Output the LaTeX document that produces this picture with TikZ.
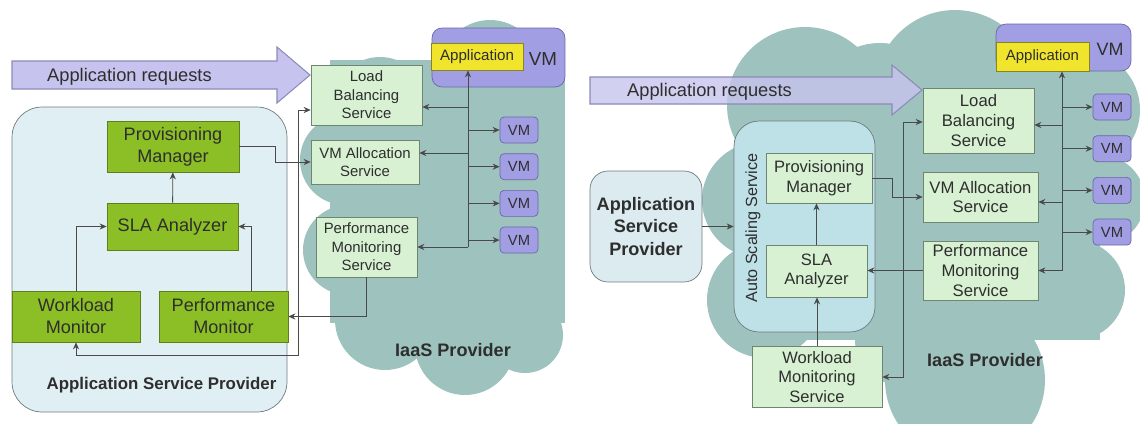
\documentclass[tikz,border=0pt]{standalone}
\usepackage{fontspec}
\setmainfont{Liberation Sans}
\usetikzlibrary{arrows.meta}
\usetikzlibrary{positioning}

\definecolor{cloudteal}{HTML}{9EC3BE}
\definecolor{aspfill}{HTML}{E0EFF3}
\definecolor{asprfill}{HTML}{DCEBF0}
\definecolor{autofill}{HTML}{BEE0E7}
\definecolor{boxgray}{HTML}{6F7B7D}
\definecolor{greenfill}{HTML}{8CBF26}
\definecolor{greenedge}{HTML}{5E7F1C}
\definecolor{lightfill}{HTML}{D7F1D2}
\definecolor{lightedge}{HTML}{6E8570}
\definecolor{vmfill}{HTML}{A29EE3}
\definecolor{vmedge}{HTML}{6A66A8}
\definecolor{appyellow}{HTML}{F0E52C}
\definecolor{appedge}{HTML}{8A8420}
\definecolor{reqfill}{HTML}{C6C4EE}
\definecolor{reqedge}{HTML}{8C8AB8}
\definecolor{linegray}{HTML}{4A4A4A}
\definecolor{textgray}{HTML}{2E2E2E}

\begin{document}
\begin{tikzpicture}[x=0.02cm,y=-0.02cm,
		>={Stealth[length=4pt,width=3.5pt]},
		link/.style={draw=linegray,line width=0.5pt},
		gbox/.style={draw=greenedge,fill=greenfill,rectangle,inner sep=1pt,align=center,text=textgray,font=\fontsize{10.3}{12.5}\selectfont},
		lbox/.style={draw=lightedge,fill=lightfill,rectangle,inner sep=1pt,align=center,text=textgray},
		vmsmall/.style={draw=vmedge,fill=vmfill,rounded corners=0.08cm,minimum width=0.76cm,minimum height=0.52cm,inner sep=0pt,text=textgray,font=\fontsize{8.4}{10}\selectfont},
		reqarrow/.style={draw=reqedge,fill=reqfill,line width=0.6pt},
		title/.style={text=textgray,font=\bfseries\fontsize{10.3}{12.5}\selectfont}]
		\useasboundingbox (0,0) rectangle (1140,423);

		% clouds
		\fill [cloudteal] (330,60) rectangle (565,323);
		\fill [cloudteal] (380,105) circle (0.96cm);
		\fill [cloudteal] (490,70) circle (1cm);
		\fill [cloudteal] (345,160) circle (0.9cm);
		\fill [cloudteal] (348,250) circle (0.9cm);
		\fill [cloudteal] (385,320) circle (1cm);
		\fill [cloudteal] (465,345) circle (1cm);
		\fill [cloudteal] (525,335) circle (0.76cm);

		\fill [cloudteal] (760,60) rectangle (1100,340);
		\fill [cloudteal] (805,105) circle (1.56cm);
		\fill [cloudteal] (880,110) circle (1.34cm);
		\fill [cloudteal] (955,90) circle (1.6cm);
		\fill [cloudteal] (1080,110) circle (1.2cm);
		\fill [cloudteal] (1100,200) circle (0.9cm);
		\fill [cloudteal] (1075,290) circle (1cm);
		\fill [cloudteal] (760,200) circle (1.16cm);
		\fill [cloudteal] (765,300) circle (1.16cm);
		\fill [cloudteal] (965,380) circle (1.6cm);
		\fill [cloudteal] (900,340) circle (0.9cm);

		% left: provider box
		\node [draw=boxgray,fill=aspfill,rounded corners=0.6cm,minimum width=5.5cm,minimum height=6.1cm] (asp) at (149.5,259.5) {};
		\node [title,font=\bfseries\fontsize{9.6}{12}\selectfont] (asplabel) at (161.5,385) {Application Service Provider};

		% left: request arrow
		\path [reqarrow] (12,61) -- (277,61) -- (277,47) -- (310,75) -- (277,103) -- (277,89) -- (12,89) -- cycle;
		\node [anchor=west,text=textgray,font=\fontsize{10.4}{12}\selectfont] (req) at (41,77) {Application requests};

		\node [gbox,minimum width=2.64cm,minimum height=1.02cm] (prov) at (173,146.5) {Provisioning\\Manager};
		\node [gbox,minimum width=2.62cm,minimum height=0.94cm] (sla) at (172.5,226.5) {SLA Analyzer};
		\node [gbox,minimum width=2.56cm,minimum height=1.02cm] (wlm) at (76,316.5) {Workload\\Monitor};
		\node [gbox,minimum width=2.58cm,minimum height=1.02cm] (perfm) at (223.5,316.5) {Performance\\Monitor};

		\node [lbox,font=\fontsize{8.5}{10.5}\selectfont,minimum width=2.22cm,minimum height=1.2cm] (lbs) at (366.5,95) {Load\\Balancing\\Service};
		\node [lbox,font=\fontsize{8.5}{10.5}\selectfont,minimum width=2.16cm,minimum height=0.88cm] (vma) at (365,162) {VM Allocation\\Service};
		\node [lbox,font=\fontsize{8.5}{10.5}\selectfont,minimum width=2.02cm,minimum height=1.2cm] (pms) at (366.5,247) {Performance\\Monitoring\\Service};

		\node [draw=vmedge,fill=vmfill,rounded corners=0.2cm,minimum width=2.66cm,minimum height=1.18cm] (vmtop) at (498.5,57.5) {};
		\node [draw=appedge,fill=appyellow,minimum width=1.84cm,minimum height=0.54cm,inner sep=0pt,text=textgray,font=\fontsize{8.6}{10}\selectfont] (app) at (477,56.5) {Application};
		\node [text=textgray,font=\fontsize{10.7}{12}\selectfont] (vmlabel) at (543,59) {VM};

		\node [vmsmall] (vm1) at (519,130) {VM};
		\node [vmsmall,below=0.2cm of vm1] (vm2) {VM};
		\node [vmsmall,below=0.2cm of vm2] (vm3) {VM};
		\node [vmsmall,below=0.2cm of vm3] (vm4) {VM};

		\node [title] (iaas) at (453,350) {IaaS Provider};

		% left: connectors
		\draw [link,->] (sla) -- (prov);
		\draw [link,->] (wlm.north) |- (sla.west);
		\draw [link,->] ([xshift=0.55cm]perfm.north) |- (sla.east);
		\draw [link,->] (prov.east) -- ++(36,0) |- (vma.west);
		\draw [link,->] (pms.south) |- (perfm.east);
		\coordinate (bend1) at (298,355);
		\coordinate (lbsin) at (298,110);
		\draw [link,<->] (wlm.south) |- (bend1) -- (lbsin) -- (lbsin -| lbs.west);

		\coordinate (bus) at (468,247);
		\coordinate (bus1) at (468,107);
		\coordinate (bus2) at (468,153);
		\draw [link,->] (bus) -- (bus |- app.south);
		\draw [link,->] (bus) -- (pms.east);
		\draw [link,->] (bus1) -- (bus1 -| lbs.east);
		\draw [link,->] (bus2) -- (bus2 -| vma.east);
		\foreach \i in {1,...,4}
			\draw [link,->] (bus |- vm\i.west) -- (vm\i.west);

		% right: request arrow
		\path [reqarrow,fill opacity=0.8] (590,77) -- (892,77) -- (892,65) -- (922,90) -- (892,115) -- (892,104) -- (590,104) -- cycle;
		\node [anchor=west,text=textgray,font=\fontsize{10.4}{12}\selectfont] (req2) at (621,92) {Application requests};

		% right: provider and auto scaling
		\node [draw=boxgray,fill=asprfill,rounded corners=0.36cm,minimum width=2.24cm,minimum height=2.22cm,align=center,text=textgray,font=\bfseries\fontsize{10.3}{12.6}\selectfont] (asp2) at (646,226.5) {Application\\Service\\Provider};
		\node [draw=boxgray,fill=autofill,rounded corners=0.5cm,minimum width=2.82cm,minimum height=4.22cm] (autos) at (804.5,226.5) {};
		\node [rotate=90,text=textgray,font=\fontsize{9.2}{11}\selectfont] (autoslabel) at (753,228) {Auto Scaling Service};

		\node [lbox,font=\fontsize{9.4}{11.3}\selectfont,minimum width=2.12cm,minimum height=1cm] (prov2) at (819,178) {Provisioning\\Manager};
		\node [lbox,font=\fontsize{9.4}{11.3}\selectfont,minimum width=2.02cm,minimum height=1.04cm] (sla2) at (816.5,271) {SLA\\Analyzer};
		\node [lbox,font=\fontsize{9.4}{11.3}\selectfont,minimum width=2.6cm,minimum height=1.22cm] (wms) at (817,377) {Workload\\Monitoring\\Service};

		\node [lbox,font=\fontsize{9.5}{11.3}\selectfont,minimum width=2.22cm,minimum height=1.3cm] (lbs2) at (978.5,120.5) {Load\\Balancing\\Service};
		\node [lbox,font=\fontsize{9.5}{11.3}\selectfont,minimum width=2.3cm,minimum height=1cm] (vma2) at (980.5,197) {VM Allocation\\Service};
		\node [lbox,font=\fontsize{9.5}{11.3}\selectfont,minimum width=2.3cm,minimum height=1.18cm] (pms2) at (980.5,270.5) {Performance\\Monitoring\\Service};

		\node [draw=vmedge,fill=vmfill,rounded corners=0.2cm,minimum width=2.7cm,minimum height=0.94cm] (vmtop2) at (1063.5,47.5) {};
		\node [draw=appedge,fill=appyellow,minimum width=1.86cm,minimum height=0.58cm,inner sep=0pt,text=textgray,font=\fontsize{8.5}{10}\selectfont] (app2) at (1042.5,56.5) {Application};
		\node [text=textgray,font=\fontsize{10.2}{12}\selectfont] (vmlabel2) at (1110,49) {VM};

		\node [vmsmall] (vmr1) at (1112,107) {VM};
		\node [vmsmall,below=0.3cm of vmr1] (vmr2) {VM};
		\node [vmsmall,below=0.3cm of vmr2] (vmr3) {VM};
		\node [vmsmall,below=0.3cm of vmr3] (vmr4) {VM};

		\node [title] (iaas2) at (985,360) {IaaS Provider};

		% right: connectors
		\draw [link,->] (asp2) -- (autos);
		\draw [link,->] (sla2.north) -- (sla2.north |- prov2.south);
		\draw [link,->] (wms.north) -- (wms.north |- sla2.south);
		\draw [link,->] (pms2.west) -- (pms2.west -| sla2.east);
		\draw [link,->] (prov2.east) -- ++(20,0) |- (vma2.west);
		\coordinate (bend2) at (903,122);
		\draw [link,<->] (wms.east) -| (bend2) -- (bend2 -| lbs2.west);

		\coordinate (busr) at (1062,270.5);
		\coordinate (busr1) at (1062,125);
		\coordinate (busr2) at (1062,202);
		\draw [link,->] (busr) -- (busr |- app2.south);
		\draw [link,->] (busr) -- (pms2.east);
		\draw [link,->] (busr1) -- (busr1 -| lbs2.east);
		\draw [link,->] (busr2) -- (busr2 -| vma2.east);
		\foreach \i in {1,...,4}
			\draw [link,->] (busr |- vmr\i.west) -- (vmr\i.west);
	\end{tikzpicture}
\end{document}
